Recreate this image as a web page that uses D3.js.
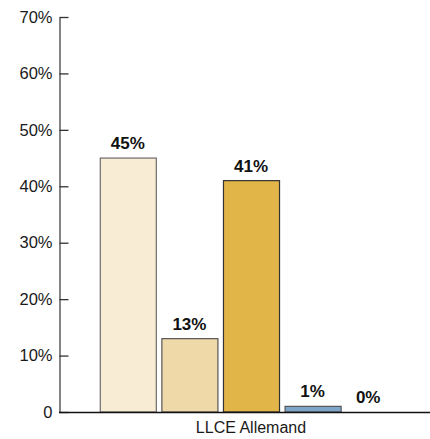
<!DOCTYPE html>
<html><head><meta charset="utf-8">
<script src="https://cdn.jsdelivr.net/npm/d3@7"></script>
<style>body{margin:0;background:#fff}svg{display:block}text{font-family:"Liberation Sans",Arial,sans-serif}</style>
</head><body><svg id="c" width="430" height="439"></svg>
<script>
const categories = ["LLCE Allemand"];
const seriesNames = ["Série 1","Série 2","Série 3","Série 4","Série 5"];
const seriesValues = [45, 13, 41, 1, 0];
const seriesColors = ["#F8ECD5","#F0D9A8","#E2B548","#7EA6CA","#C9C9C9"];
const seriesStrokes = ["#6b6b6b","#555","#333","#555","#999"];
const yTicks = [0,10,20,30,40,50,60,70];

const svg = d3.select("#c");
const y = d3.scaleLinear().domain([0,70]).range([412,17]);
const x0 = d3.scaleBand().domain(categories).range([59,443]).padding(0);
const x1 = d3.scaleBand().domain(seriesNames).range([0,x0.bandwidth()]).paddingInner(0.09).paddingOuter(0.662);

const yAxis = d3.axisLeft(y).tickValues(yTicks).tickSizeInner(-9).tickSizeOuter(0).tickPadding(7)
  .tickFormat(d => d===0 ? "0" : d+"%");
const gy = svg.append("g").attr("transform","translate(59.5,0)").call(yAxis);
gy.select(".domain").attr("stroke","#666").attr("stroke-width",1.6);
gy.selectAll(".tick line").attr("stroke","#333").attr("stroke-width",1.3);
gy.selectAll(".tick text").attr("font-size",16.5).attr("fill","#1a1a1a")
  .style("font-family","'Liberation Sans',Arial,sans-serif");

const data = seriesNames.map((s,i)=>({s, v:seriesValues[i], c:seriesColors[i], k:seriesStrokes[i]}));
const g = svg.append("g");
categories.forEach(cat=>{
  const gc = g.append("g").attr("transform",`translate(${x0(cat)},0)`);
  gc.selectAll("rect").data(data).join("rect")
    .attr("x",d=>x1(d.s)+0.5).attr("width",x1.bandwidth())
    .attr("y",d=>y(d.v)).attr("height",d=>y(0)-y(d.v))
    .attr("fill",d=>d.c).attr("stroke",d=>d.k).attr("stroke-width",1.2);
  gc.selectAll("text.v").data(data).join("text").attr("class","v")
    .attr("x",d=>x1(d.s)+x1.bandwidth()/2 - (d.v===0?6:0)).attr("y",d=>y(d.v)-9)
    .attr("text-anchor","middle").attr("font-size",17).attr("font-weight","bold").attr("fill","#111")
    .text(d=>d.v+"%");
});

// baseline
svg.append("line").attr("x1",59).attr("x2",430).attr("y1",y(0)+0.5).attr("y2",y(0)+0.5)
  .attr("stroke","#111").attr("stroke-width",1.4);

// category label
svg.selectAll("text.cat").data(categories).join("text").attr("class","cat")
  .attr("x",d=>x0(d)+x0.bandwidth()/2).attr("y",433).attr("text-anchor","middle")
  .attr("font-size",16).attr("fill","#1a1a1a").text(d=>d);
</script></body></html>
